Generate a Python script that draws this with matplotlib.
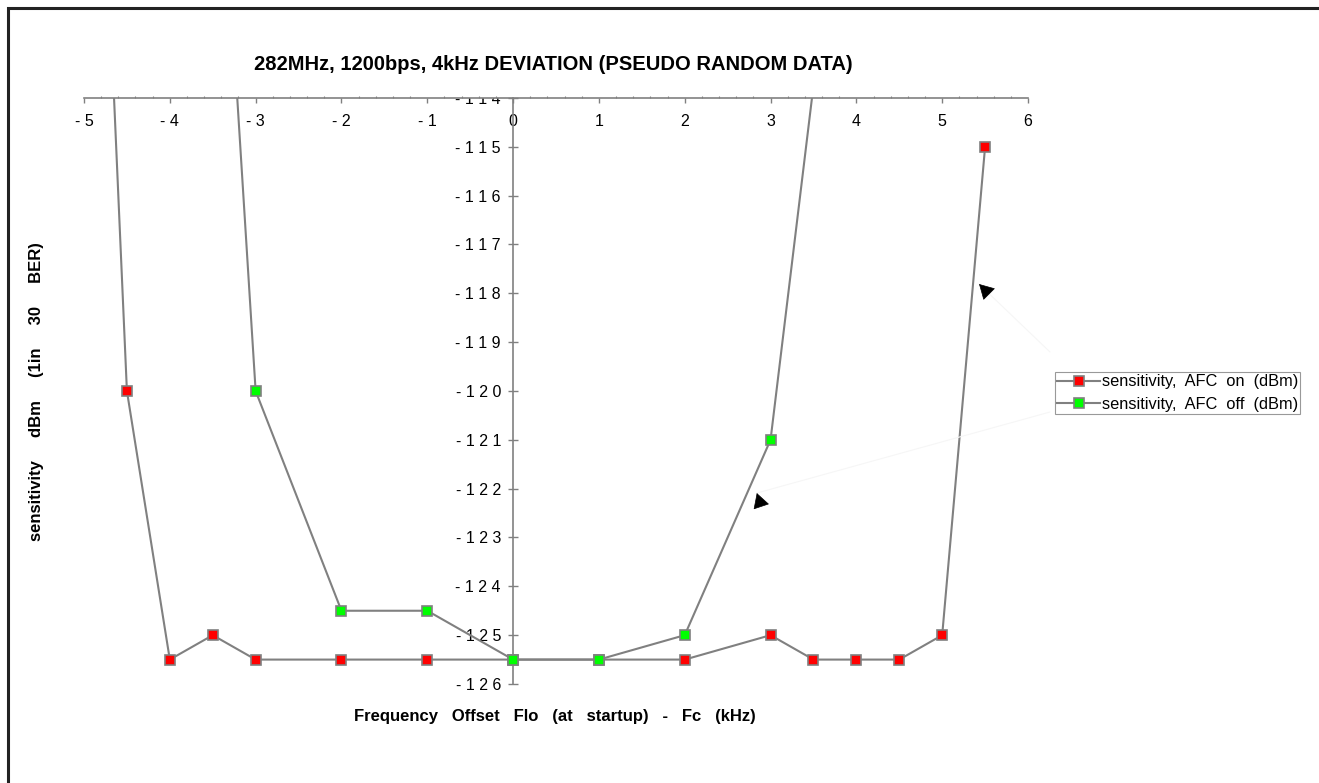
import matplotlib
matplotlib.use("Agg")
import matplotlib.pyplot as plt
from matplotlib.patches import Rectangle
from matplotlib.transforms import Bbox, TransformedBbox

plt.rcParams['font.family'] = ['Liberation Sans', 'DejaVu Sans']

# sensitivity (dBm) vs frequency offset (kHz)
afc_on_x = [-5, -4.5, -4, -3.5, -3, -2, -1, 0, 1, 2, 3, 3.5, 4, 4.5, 5, 5.5]
afc_on_y = [-100, -120, -125.5, -125, -125.5, -125.5, -125.5, -125.5, -125.5,
            -125.5, -125, -125.5, -125.5, -125.5, -125, -115]
afc_off_x = [-3.5, -3, -2, -1, 0, 1, 2, 3, 4]
afc_off_y = [-106, -120, -124.5, -124.5, -125.5, -125.5, -125, -121, -106.5]

x_ticks = [-5, -4, -3, -2, -1, 0, 1, 2, 3, 4, 5, 6]
y_ticks = [-114, -115, -116, -117, -118, -119, -120, -121, -122, -123, -124, -125, -126]


def spaced(v):
    s = str(int(v))
    if s.startswith('-'):
        return '- ' + ' '.join(s[1:])
    return ' '.join(s)


W, H = 1319, 783
fig = plt.figure(figsize=(W / 100, H / 100), dpi=100)
ax = fig.add_axes([84 / W, 1 - 684 / H, (1028 - 84) / W, (684 - 98) / H])

grey = '#808080'
ax.plot(afc_on_x, afc_on_y, color=grey, lw=1.5, marker='s', ms=6.5,
        mfc='#ff0000', mec=grey, mew=1.2, label='sensitivity,  AFC  on  (dBm)',
        zorder=3)
ax.plot(afc_off_x, afc_off_y, color=grey, lw=1.5, marker='s', ms=6.5,
        mfc='#00ff00', mec=grey, mew=1.2, label='sensitivity,  AFC  off  (dBm)',
        zorder=4)

ax.set_xlim(-5, 6)
ax.set_ylim(-126, -114)

ax.spines['top'].set_visible(False)
ax.spines['right'].set_visible(False)
ax.spines['bottom'].set_position(('data', -114))
ax.spines['left'].set_position(('data', 0))
for sp in ['bottom', 'left']:
    ax.spines[sp].set_color(grey)
    ax.spines[sp].set_linewidth(1.2)

ax.set_xticks(x_ticks)
ax.set_xticklabels([spaced(v) for v in x_ticks])
ax.set_xticks([v / 5 for v in range(-25, 31)], minor=True)
ax.set_yticks(y_ticks)
ax.set_yticklabels([spaced(v) for v in y_ticks])

ax.tick_params(axis='x', which='major', direction='out', length=3.6, width=1,
               color=grey, pad=8, labelsize=11.5)
ax.tick_params(axis='x', which='minor', direction='in', length=1.5, width=0.8,
               color=grey)
ax.tick_params(axis='y', which='major', direction='inout', length=6.5, width=1,
               color=grey, pad=5.5, labelsize=11.5)

# y labels are hidden above the top of the plot area (the -114 one is cut)
clip = TransformedBbox(Bbox([[-1, -0.2], [2, 1]]), ax.transAxes)
for t in ax.yaxis.get_major_ticks():
    t.label1.set_clip_box(clip)
    t.label1.set_clip_on(True)

# arrows from legend toward the curves
leg_pts = [(1050 / W, 1 - 412 / H), (1050 / W, 1 - 352 / H)]
tips = [(2.84, -122.09), (5.43, -117.81)]
offsets = [(3, -9), (7, -7)]
for (lx, ly), tip, off in zip(leg_pts, tips, offsets):
    ax.annotate('', xy=tip, xycoords='data', xytext=(lx, ly),
                textcoords='figure fraction',
                arrowprops=dict(arrowstyle='-', color='#f6f6f6', lw=0.8,
                                shrinkA=0, shrinkB=0), annotation_clip=False)
    ax.annotate('', xy=tip, xycoords='data', xytext=off,
                textcoords='offset points',
                arrowprops=dict(arrowstyle='-|>,head_length=0.8,head_width=0.45',
                                color='black', lw=0.5, shrinkA=0, shrinkB=0,
                                mutation_scale=12), annotation_clip=False)

leg = fig.legend(loc='upper left', bbox_to_anchor=(1055 / W, 1 - 372 / H),
                 bbox_transform=fig.transFigure, fontsize=11.8, frameon=True,
                 fancybox=False, edgecolor=grey, handlelength=2.6,
                 handletextpad=0.1, borderpad=0.15, labelspacing=0.45,
                 borderaxespad=0)
leg.get_frame().set_linewidth(0.8)

fig.text(553 / W, 1 - 64 / H, '282MHz, 1200bps, 4kHz DEVIATION (PSEUDO RANDOM DATA)',
         ha='center', va='center', fontsize=14.5, fontweight='bold')
fig.text(555 / W, 1 - 717 / H,
         'Frequency   Offset   Flo   (at   startup)   -   Fc   (kHz)',
         ha='center', va='center', fontsize=12, fontweight='bold')
fig.text(37 / W, 1 - 392 / H, 'sensitivity     dBm     (1in     30     BER)',
         ha='center', va='center', rotation=90, fontsize=12, fontweight='bold')

fig.add_artist(Rectangle((8 / W, -0.5), 2, 1.5 - 8 / H, transform=fig.transFigure,
                         fill=False, ec='#222222', lw=2.2))

fig.savefig('out.png', dpi=100)
